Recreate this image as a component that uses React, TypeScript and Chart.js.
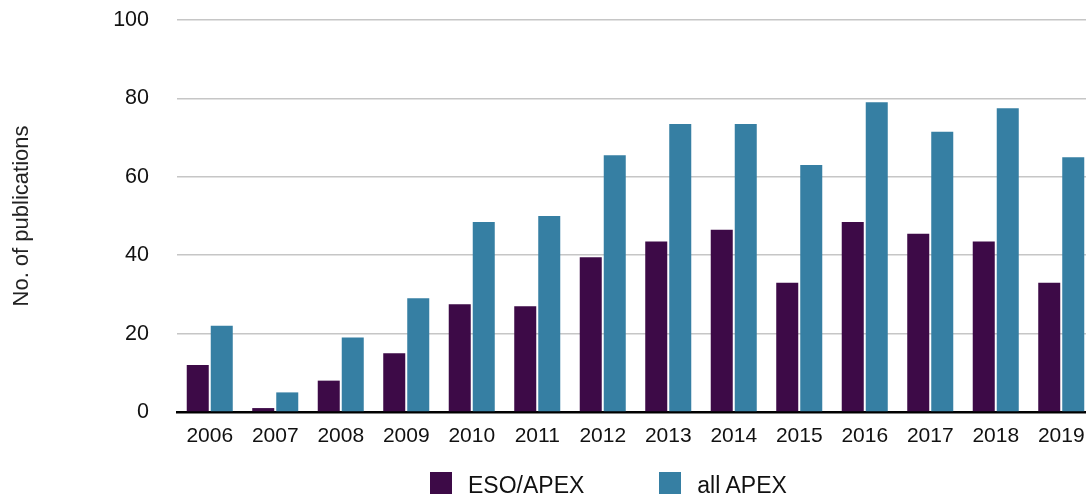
import React, { useEffect, useRef } from 'react';
import Chart from 'chart.js/auto';

const years = ['2006', '2007', '2008', '2009', '2010', '2011', '2012', '2013', '2014', '2015', '2016', '2017', '2018', '2019'];
const esoApex = [12, 1, 8, 15, 27.5, 27, 39.5, 43.5, 46.5, 33, 48.5, 45.5, 43.5, 33];
const allApex = [22, 5, 19, 29, 48.5, 50, 65.5, 73.5, 73.5, 63, 79, 71.5, 77.5, 65];
const seriesNames = ['ESO/APEX', 'all APEX'];
const seriesColors = ['#3d0a47', '#367fa3'];
const yTitle = 'No. of publications';

const FONT = "'Liberation Sans', Arial, Helvetica, sans-serif";

const App: React.FC = () => {
  const chartRef = useRef<HTMLCanvasElement>(null);
  const chartInstance = useRef<Chart | null>(null);

  useEffect(() => {
    const ctx = chartRef.current?.getContext('2d');
    if (!ctx) return;

    if (chartInstance.current) {
      chartInstance.current.destroy();
    }

    chartInstance.current = new Chart(ctx, {
      type: 'bar',
      data: {
        labels: years,
        datasets: [
          { label: seriesNames[0], data: esoApex, backgroundColor: seriesColors[0] },
          { label: seriesNames[1], data: allApex, backgroundColor: seriesColors[1] },
        ],
      },
      options: {
        animation: false,
        responsive: true,
        maintainAspectRatio: false,
        categoryPercentage: 0.733,
        barPercentage: 0.9167,
        layout: { padding: { top: 20, left: 0, right: 0, bottom: 0 } },
        plugins: {
          legend: { display: false },
          tooltip: { enabled: false },
        },
        scales: {
          x: {
            grid: { display: false, drawTicks: false },
            border: { display: true, color: '#000', width: 2.5 },
            ticks: { color: '#111', font: { family: FONT, size: 21 }, padding: 12 },
            afterFit: (scale: any) => {
              scale.height = 82;
              scale.paddingLeft = 0;
              scale.paddingRight = 0;
            },
          },
          y: {
            min: 0,
            max: 100,
            ticks: { stepSize: 20, color: '#111', font: { family: FONT, size: 21.5 }, padding: 28 },
            grid: {
              drawTicks: false,
              lineWidth: 1.5,
              color: (c: any) => (c.tick && c.tick.value === 0 ? 'rgba(0,0,0,0)' : '#c6c6c6'),
            },
            border: { display: false },
            title: {
              display: true,
              text: yTitle,
              color: '#222',
              font: { family: FONT, size: 22 },
              padding: { top: 9, bottom: 0 },
            },
            afterFit: (scale: any) => {
              scale.width = 177;
              scale.paddingTop = 0;
              scale.paddingBottom = 0;
            },
          },
        },
      },
    });

    return () => {
      if (chartInstance.current) {
        chartInstance.current.destroy();
        chartInstance.current = null;
      }
    };
  }, []);

  return (
    <div style={{ position: 'fixed', left: 0, top: 0, right: 0, bottom: 0, overflow: 'hidden', background: '#fff' }}>
      <div style={{ position: 'absolute', left: 0, top: 0, width: 1094, height: 494 }}>
        <canvas ref={chartRef} />
      </div>
      <div
        style={{
          position: 'absolute',
          top: 472,
          left: 430,
          display: 'flex',
          gap: 75,
          fontFamily: FONT,
          fontSize: 23,
          color: '#111',
        }}
      >
        {seriesNames.map((name, i) => (
          <div key={name} style={{ display: 'flex', alignItems: 'flex-start', gap: 16 }}>
            <span style={{ width: 22, height: 22, background: seriesColors[i], display: 'block' }} />
            <span style={{ lineHeight: '22px', paddingTop: 2, whiteSpace: 'nowrap' }}>{name}</span>
          </div>
        ))}
      </div>
    </div>
  );
};

export default App;
